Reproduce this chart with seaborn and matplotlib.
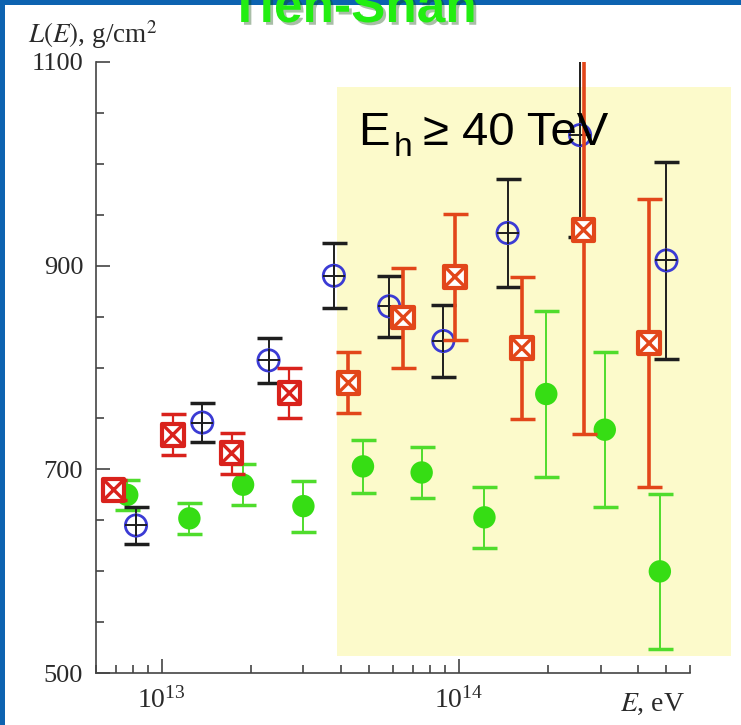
import pandas as pd
import matplotlib
matplotlib.use('Agg')
import matplotlib.pyplot as plt
import matplotlib.patheffects as pe
import seaborn as sns
from matplotlib.patches import Rectangle
from matplotlib.ticker import LogLocator, MultipleLocator, NullFormatter

# Values: E in eV, L(E) in g/cm2, symmetric errors
red_E = [6.9e12, 1.09e13, 1.72e13, 2.69e13, 4.25e13, 6.5e13, 9.7e13, 1.63e14, 2.63e14, 4.37e14]
red_L = [680, 734, 716, 775, 785, 849, 889, 819, 935, 824]
red_err = [10, 20, 20, 25, 30, 49, 62, 70, 200, 141]

blue_E = [8.2e12, 1.37e13, 2.29e13, 3.8e13, 5.83e13, 8.87e13, 1.46e14, 2.56e14, 5.0e14]
blue_L = [645, 746, 807, 890, 860, 826, 932, 1028, 905]
blue_err = [18, 19, 22, 32, 30, 35, 53, 100, 97]

green_E = [7.66e12, 1.24e13, 1.88e13, 3.0e13, 4.76e13, 7.5e13, 1.22e14, 1.97e14, 3.1e14, 4.75e14]
green_L = [675, 652, 685, 664, 703, 697, 653, 774, 739, 600]
green_err = [15, 15, 20, 25, 26, 25, 30, 81, 76, 76]

y_ticks = [500, 700, 900, 1100]

red = pd.DataFrame({'E': red_E, 'L': red_L, 'err': red_err})
blue = pd.DataFrame({'E': blue_E, 'L': blue_L, 'err': blue_err})
green = pd.DataFrame({'E': green_E, 'L': green_L, 'err': green_err})

sns.set_style('ticks')
plt.rcParams['font.family'] = ['Liberation Serif', 'DejaVu Serif']
plt.rcParams['mathtext.fontset'] = 'stix'

W, H = 741, 725
fig = plt.figure(figsize=(W / 100, H / 100), dpi=100)
fig.patch.set_facecolor('white')
ax = fig.add_axes([95.7 / W, 1 - 673.3 / H, 594.3 / W, 611.6 / H])
ax.patch.set_alpha(0)


def px(x, y):
    return x / W, 1 - y / H


# shaded region for E_h >= 40 TeV (runs past the right end of the axis)
x0, y0 = px(337, 656)
x1, y1 = px(731, 87)
ax.add_patch(Rectangle((x0, y0), x1 - x0, y1 - y0, transform=fig.transFigure,
                       facecolor='#fcfacb', edgecolor='none', clip_on=False, zorder=-5))

# green filled circles
for _, r in green.iterrows():
    ax.errorbar(r.E, r.L, yerr=r.err, fmt='none', ecolor='#4fdc2c', elinewidth=1.4,
                capsize=9, capthick=2.5, zorder=2)
sns.scatterplot(data=green, x='E', y='L', ax=ax, color='#36dd14', s=260,
                edgecolor='none', zorder=3, legend=False)

# blue open circles with cross
for _, r in blue.iterrows():
    ax.errorbar(r.E, r.L, yerr=r.err, fmt='none', ecolor='#1e1e1e', elinewidth=1.4,
                capsize=9, capthick=2.5, zorder=4)
ax.scatter(blue.E, blue.L, s=235, facecolors='none', edgecolors='#3b3bd4',
           linewidths=2.0, zorder=5)
ax.scatter(blue.E, blue.L, s=235, marker='+', color='#1e1e1e', linewidths=1.4, zorder=5)

# red/orange squares with X
red['col'] = ['#d9221c' if e < 4e13 else '#e2461a' for e in red.E]
for _, r in red.iterrows():
    lw = 1.6 if r.E < 4e13 else 2.6
    ax.errorbar(r.E, r.L, yerr=r.err, fmt='none', ecolor=r.col, elinewidth=lw,
                capsize=9, capthick=2.5, zorder=6)
sns.scatterplot(data=red, x='E', y='L', ax=ax, marker='s', s=240, color='white',
                edgecolor=red.col, linewidth=3.0, zorder=7, legend=False)
ax.scatter(red.E, red.L, s=240, marker='x', color=red.col, linewidths=2.4, zorder=8)

ax.set_xscale('log')
ax.set_xlim(6e12, 6e14)
ax.set_ylim(500, 1100)
ax.xaxis.set_major_locator(LogLocator(base=10, numticks=10))
ax.xaxis.set_minor_locator(LogLocator(base=10, subs=range(2, 10), numticks=20))
ax.xaxis.set_minor_formatter(NullFormatter())
ax.set_yticks(y_ticks)
ax.yaxis.set_minor_locator(MultipleLocator(50))
ax.tick_params(which='both', direction='in', colors='#444444', width=1.2,
               labelsize=19, labelcolor='#2a2a2a')
ax.tick_params(which='major', length=10, pad=9)
ax.tick_params(which='minor', length=6)
ax.tick_params(axis='x', pad=10, labelsize=20)
ax.set_xlabel('')
ax.set_ylabel('')
sns.despine(ax=ax)
for s in ['left', 'bottom']:
    ax.spines[s].set_color('#444444')
    ax.spines[s].set_linewidth(1.2)

ax.text(-0.114, 1.031, r'$L(E)$, g/cm$^2$', transform=ax.transAxes, fontsize=19.5,
        color='#2a2a2a', va='baseline', ha='left')
ax.text(0.992, -0.062, r'$E$, eV', transform=ax.transAxes, fontsize=20,
        color='#2a2a2a', va='baseline', ha='right')

# E_h >= 40 TeV annotation
fig.text(*px(358, 145), 'E', fontsize=34, family='Liberation Sans', va='baseline', color='black')
fig.text(*px(394, 156), 'h', fontsize=24, family='Liberation Sans', va='baseline', color='black')
fig.text(*px(423, 145), '≥ 40 TeV', fontsize=34, family='Liberation Sans', va='baseline',
         color='black')

# slide frame and title
fig.patches.append(Rectangle((0, 0), 5 / W, 1, transform=fig.transFigure,
                             facecolor='#0d63b0', edgecolor='none', zorder=10))
fig.patches.append(Rectangle((0, 1 - 5 / H), 1, 5 / H, transform=fig.transFigure,
                             facecolor='#0d63b0', edgecolor='none', zorder=10))
fig.text(*px(353, 22), 'Tien-Shan', fontsize=37, fontweight='bold', family='Liberation Sans',
         color='#22ee11', ha='center', va='baseline', zorder=11,
         path_effects=[pe.withSimplePatchShadow(offset=(2, -2), alpha=0.35)])

fig.savefig('out.png', dpi=100)
